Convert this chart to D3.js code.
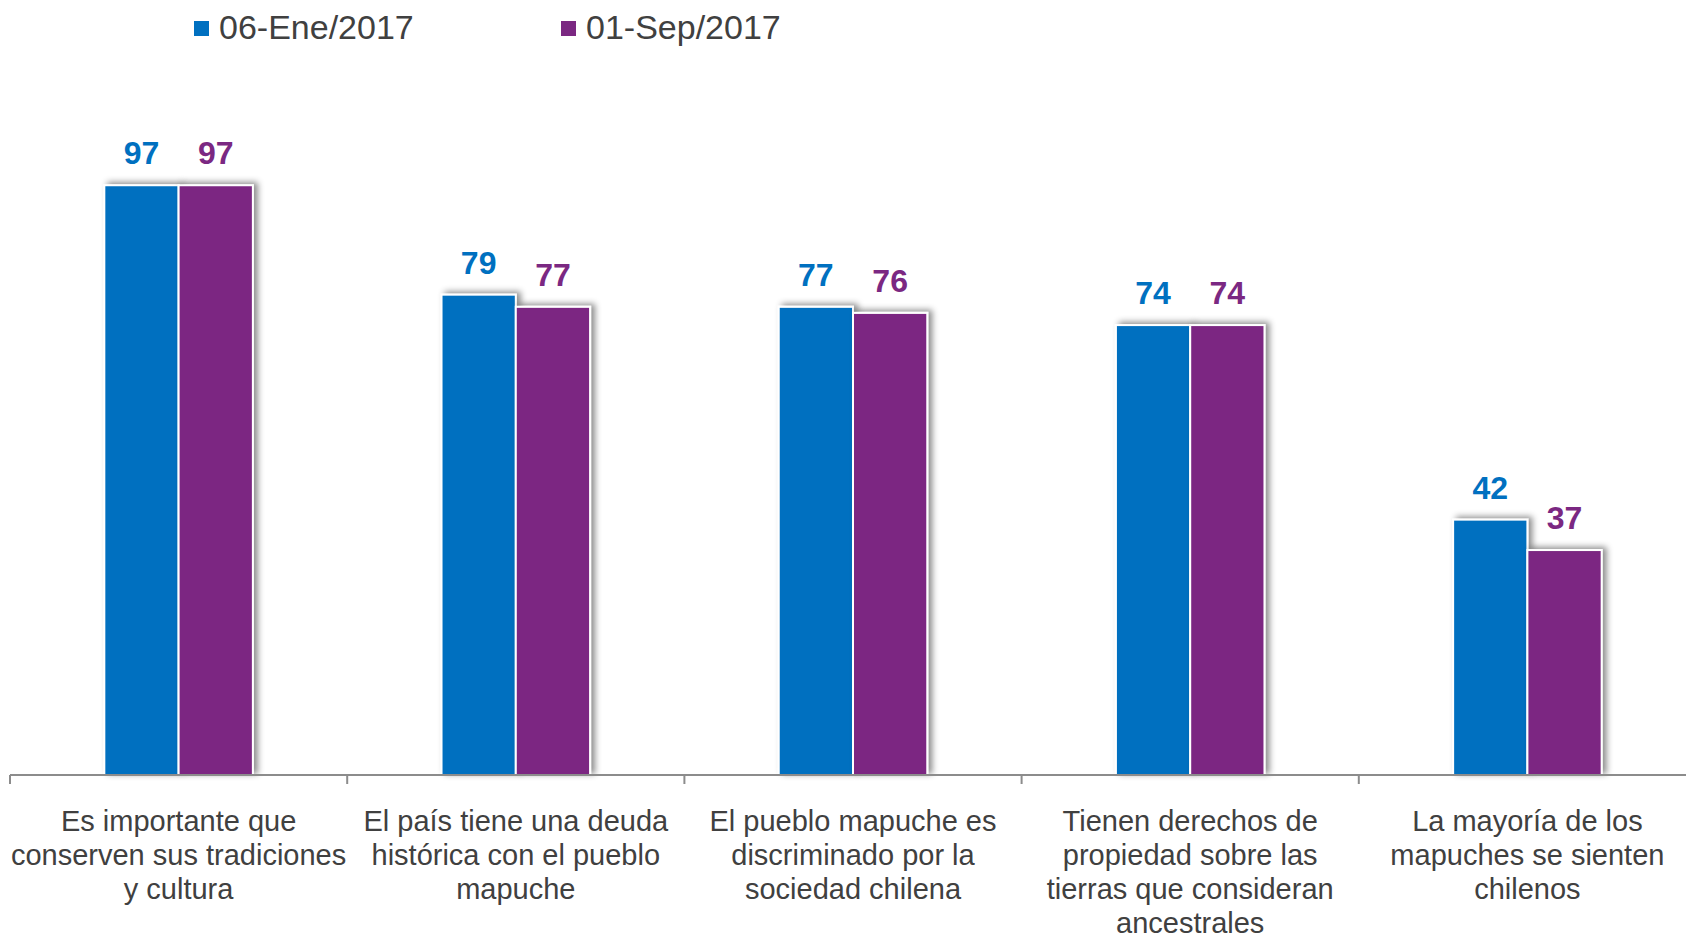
<!DOCTYPE html>
<html lang="es">
<head>
<meta charset="UTF-8" />
<title>Percepción pueblo mapuche</title>
<script src="https://d3js.org/d3.v7.min.js"></script>
<style>
  body { margin: 0; background: #fff; }
  svg { display: block; }
  .cat text, .legend text { fill: #404040; }
  .axis line, .axis path { stroke: #8c8c8c; }
</style>
</head>
<body>
<script>
// datos
const categorias = [
  ["Es importante que", "conserven sus tradiciones", "y cultura"],
  ["El país tiene una deuda", "histórica con el pueblo", "mapuche"],
  ["El pueblo mapuche es", "discriminado por la", "sociedad chilena"],
  ["Tienen derechos de", "propiedad sobre las", "tierras que consideran", "ancestrales"],
  ["La mayoría de los", "mapuches se sienten", "chilenos"]
];
const series = ["06-Ene/2017", "01-Sep/2017"];
const enero = [97, 79, 77, 74, 42];
const septiembre = [97, 77, 76, 74, 37];
const colores = ["#0070C0", "#7B2882"];

const width = 1686, height = 936;
const baseY = 775;
const font = "'Liberation Sans', Arial, sans-serif";

const svg = d3.select("body").append("svg")
  .attr("width", width)
  .attr("height", height);

// sombra de las barras
const defs = svg.append("defs");
defs.append("filter")
  .attr("id", "sombra")
  .attr("x", "-20%").attr("y", "-10%")
  .attr("width", "150%").attr("height", "120%")
  .append("feDropShadow")
  .attr("dx", 4).attr("dy", -2)
  .attr("stdDeviation", 3)
  .attr("flood-color", "#000")
  .attr("flood-opacity", 0.45);

const idx = d3.range(categorias.length);
const valores = [enero, septiembre];

const x0 = d3.scaleBand()
  .domain(idx)
  .range([10, 1696])
  .padding(0);

const x1 = d3.scaleBand()
  .domain(series)
  .range([0, x0.bandwidth()])
  .paddingInner(0)
  .paddingOuter(1.27);

const y = d3.scaleLinear()
  .domain([0, 100])
  .range([baseY, 167]);

// barras
const grupos = svg.selectAll("g.grupo")
  .data(idx)
  .enter()
  .append("g")
  .attr("class", "grupo")
  .attr("transform", i => `translate(${x0(i)},0)`);

grupos.selectAll("rect")
  .data(i => series.map((s, k) => ({ s, k, v: valores[k][i] })))
  .enter()
  .append("rect")
  .attr("x", d => x1(d.s))
  .attr("y", d => y(d.v))
  .attr("width", x1.bandwidth())
  .attr("height", d => baseY - y(d.v))
  .attr("fill", d => colores[d.k])
  .attr("stroke", "#fff")
  .attr("stroke-width", 2)
  .attr("filter", "url(#sombra)");

grupos.selectAll("text.valor")
  .data(i => series.map((s, k) => ({ s, k, v: valores[k][i] })))
  .enter()
  .append("text")
  .attr("class", "valor")
  .attr("x", d => x1(d.s) + x1.bandwidth() / 2)
  .attr("y", d => y(d.v) - 21)
  .attr("text-anchor", "middle")
  .style("font-family", font)
  .style("font-weight", "bold")
  .style("font-size", "32px")
  .attr("fill", d => colores[d.k])
  .text(d => d.v);

// eje x
const eje = svg.append("g").attr("class", "axis");
eje.append("line")
  .attr("x1", x0.range()[0]).attr("x2", width)
  .attr("y1", baseY).attr("y2", baseY)
  .attr("stroke-width", 2);
idx.forEach(i => {
  eje.append("line")
    .attr("x1", x0(i)).attr("x2", x0(i))
    .attr("y1", baseY).attr("y2", baseY + 9)
    .attr("stroke-width", 2);
});

const cat = svg.append("g").attr("class", "cat");
idx.forEach(i => {
  const t = cat.append("text")
    .attr("x", x0(i) + x0.bandwidth() / 2)
    .attr("y", 831)
    .attr("text-anchor", "middle")
    .style("font-family", font)
    .style("font-size", "29px");
  categorias[i].forEach((linea, j) => {
    t.append("tspan")
      .attr("x", x0(i) + x0.bandwidth() / 2)
      .attr("y", 831 + j * 34)
      .text(linea);
  });
});

// leyenda
const legX = [194, 561];
const legenda = svg.append("g").attr("class", "legend");
series.forEach((s, k) => {
  legenda.append("rect")
    .attr("x", legX[k]).attr("y", 21)
    .attr("width", 15).attr("height", 15)
    .attr("fill", colores[k]);
  legenda.append("text")
    .attr("x", legX[k] + 25).attr("y", 39)
    .style("font-family", font)
    .style("font-size", "34px")
    .text(s);
});
</script>
</body>
</html>
